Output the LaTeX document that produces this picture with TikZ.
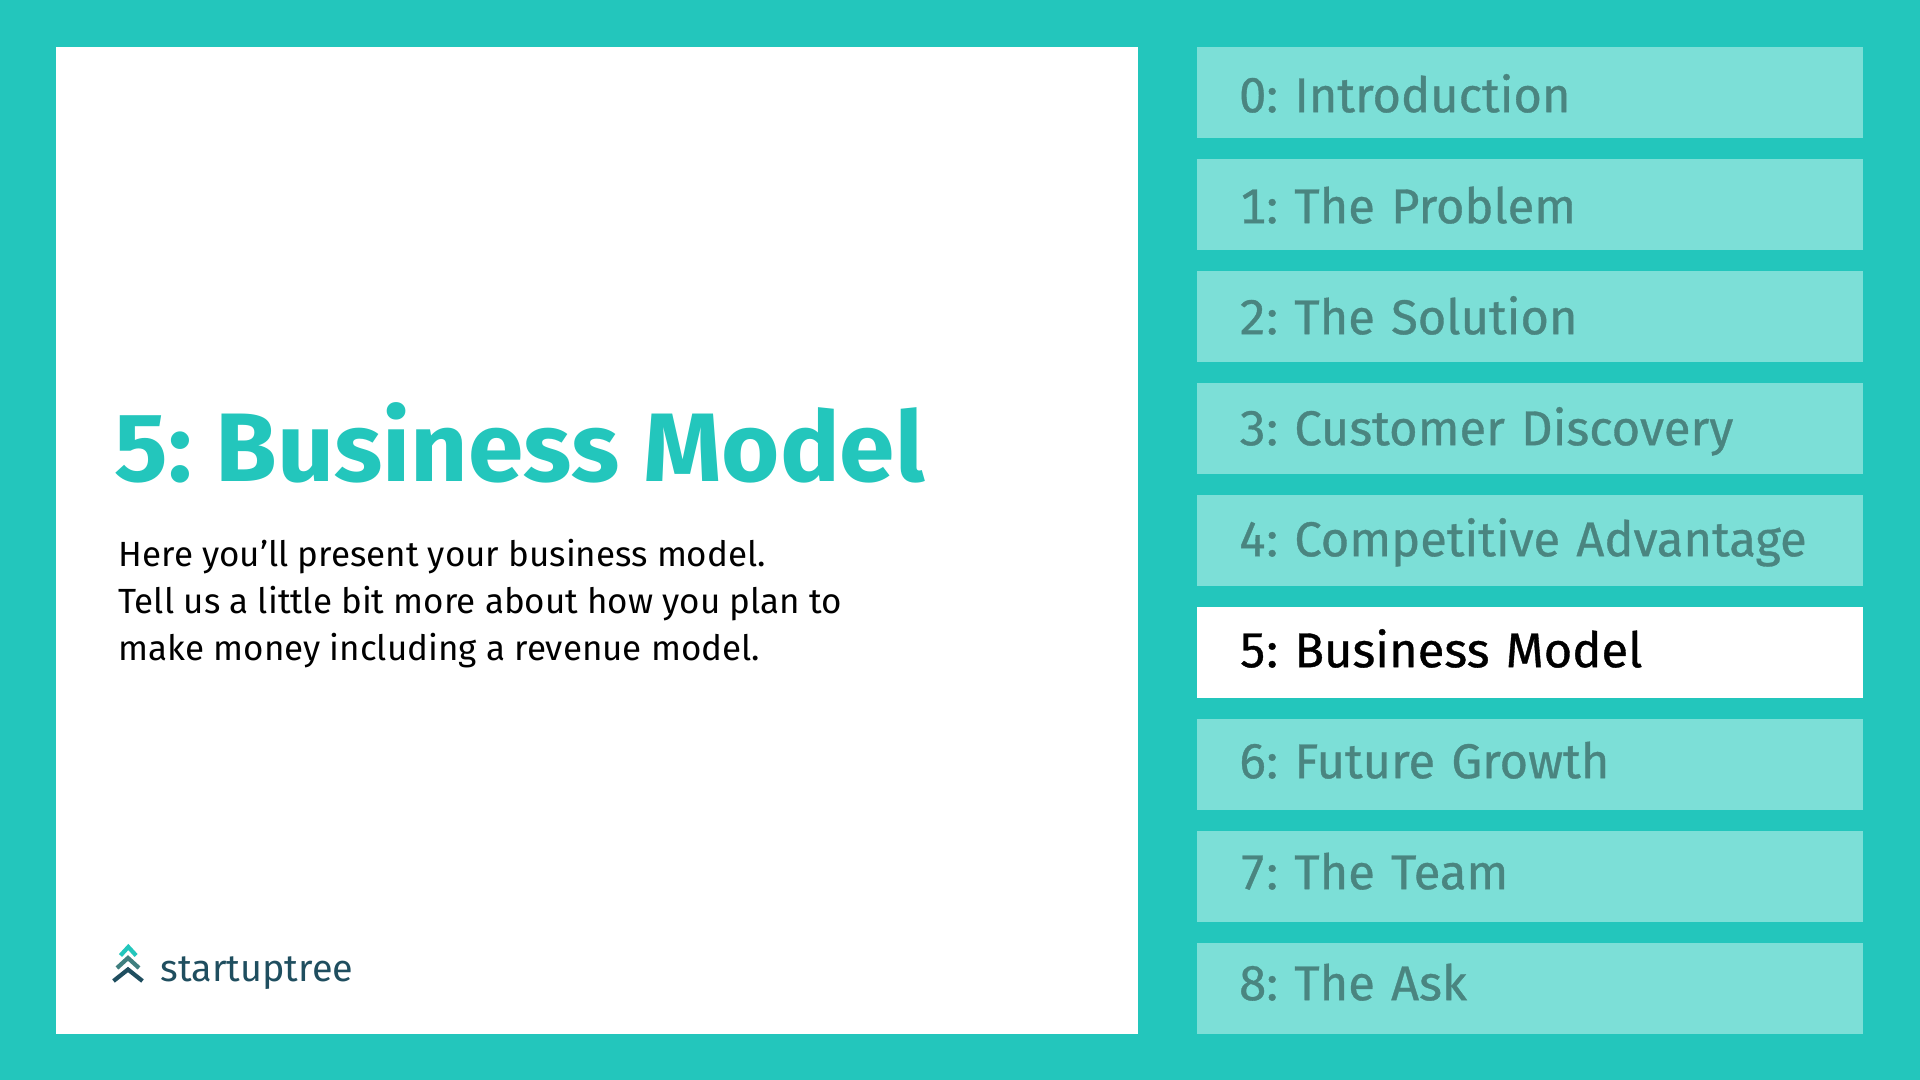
\documentclass[tikz,border=0pt]{standalone}
\usepackage{fontspec}
\setmainfont{Fira Sans}
\newfontfamily\tabfont{Fira Sans}[FakeBold=0.7, Numbers=Monospaced]
\newfontfamily\titlefont{Fira Sans}[FakeStretch=1.026]
\frenchspacing
\definecolor{bgteal}{HTML}{23C6BC}
\definecolor{tabfill}{HTML}{7CDFD7}
\definecolor{tabtext}{HTML}{4A8580}
\definecolor{logodark}{HTML}{1F4E5F}
\definecolor{logomid}{HTML}{3F7F7F}
\tikzset{
  tabbox/.style={fill=tabfill, text=tabtext, minimum width=6.655cm, minimum height=.91cm,
    text width=5.815cm, inner xsep=.42cm, inner ysep=0pt, align=left, text height=#1, text depth=0pt,
    font=\tabfont\fontsize{13.9}{16}\selectfont},
  activebox/.style={tabbox=#1, fill=white, text=black},
  chevron/.style={line width=.042cm, miter limit=10}
}
\begin{document}
\begin{tikzpicture}
    \useasboundingbox (0,0) rectangle (19.2,10.8);
    % Background
    \fill[bgteal] (0,0) rectangle (19.2,10.8);

    % Main panel
    \node[fill=white, minimum width=10.82cm, minimum height=9.87cm, inner sep=0pt] (panel) at (5.97,5.395) {};

    % Title and body
    \node[anchor=base west, inner sep=0pt, text=bgteal, font=\titlefont\fontsize{27.7}{32}\selectfont\bfseries] (title) at (1.14,5.983) {5: Business Model};
    \node[anchor=north west, inner sep=0pt, align=left, font=\fontsize{9.95}{13.36}\selectfont] (body) at (1.18,5.41) {Here you’ll present your business model.\\Tell us a little bit more about how you plan to\\make money including a revenue model.};

    % Logo
    \draw[chevron, bgteal] (1.205,1.245) -- (1.283,1.33) -- (1.361,1.245);
    \draw[chevron, logomid] (1.17,1.12) -- (1.28,1.22) -- (1.39,1.12);
    \draw[chevron, logodark] (1.135,.99) -- (1.28,1.105) -- (1.425,.99);
    \node[anchor=base west, inner sep=0pt, text=logodark, font=\fontsize{10.75}{12}\selectfont] (logo) at (1.6,.98) {startuptree};

    % Tabs
    \node[tabbox=.394cm] (tab0) at (15.2975,9.875) {0: Introduction};
    \node[tabbox=.374cm] (tab1) at (15.2975,8.755) {1: The Problem};
    \node[tabbox=.354cm] (tab2) at (15.2975,7.635) {2: The Solution};
    \node[tabbox=.334cm] (tab3) at (15.2975,6.515) {3: Customer Discovery};
    \node[tabbox=.314cm] (tab4) at (15.2975,5.395) {4: Competitive Advantage};
    \node[activebox=.294cm] (tab5) at (15.2975,4.275) {5: Business Model};
    \node[tabbox=.274cm] (tab6) at (15.2975,3.155) {6: Future Growth};
    \node[tabbox=.254cm] (tab7) at (15.2975,2.035) {7: The Team};
    \node[tabbox=.234cm] (tab8) at (15.2975,.915) {8: The Ask};
\end{tikzpicture}
\end{document}
